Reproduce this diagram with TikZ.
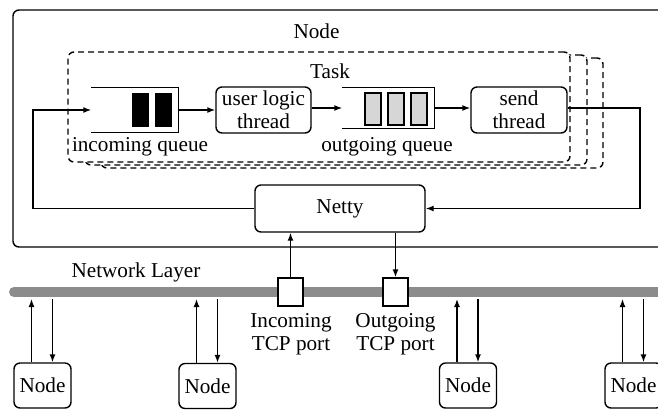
\documentclass[tikz,border=0pt]{standalone}
\usepackage{fontspec}
\setmainfont{Liberation Serif}
\usepackage{tikz}
\usetikzlibrary{arrows.meta}

\definecolor{barGray}{gray}{0.55}
\definecolor{slotGray}{gray}{0.84}

\begin{document}
\begin{tikzpicture}[x=0.5pt, y=-0.5pt, line width=0.7pt,
    font=\fontsize{10.6}{11.5}\selectfont,
    >={Latex[length=4pt,width=3pt]},
    rbox/.style={draw, rounded corners=3pt, align=center, inner sep=0pt},
    taskbox/.style={draw, dash pattern=on 3pt off 2pt, rounded corners=3pt, fill=white,
                    minimum width=251pt, minimum height=55pt},
    port/.style={draw, fill=white, minimum width=12.5pt, minimum height=14pt, inner sep=0pt},
    peer/.style={rbox, minimum width=28.5pt, minimum height=22.5pt}]
%    \draw [help lines, opacity=0.5, step=20] (0,0) grid (658,409);
    \useasboundingbox (0,0) rectangle (658,409);
    \clip (0,0) rectangle (658,409);

    %% the node that holds the tasks
    \node (host) [draw, rounded corners=3pt, minimum width=327.5pt, minimum height=118.5pt] at (340.5,128.5) {};
    \node (hostlbl) at (316.5,31) {Node};

    %% task boxes, drawn back to front
    \node (task3) [taskbox] at (352,113) {};
    \node (task2) [taskbox] at (336,110) {};
    \node (task1) [taskbox] at (319,107) {};
    \node (tasklbl) at (330,71.5) {Task};

    %% queues and threads
    \node (inq) [minimum width=43pt, minimum height=22pt, inner sep=0pt] at (135,110) {};
    \draw (inq.north west) -- (inq.north east) -- (inq.south east) -- (inq.south west);
    \foreach \x in {132,155}
        \fill (\x,93) rectangle ++(17,34);
    \node (inqlbl) at (140,147) {incoming queue};

    \node (logic) [rbox, minimum width=47.5pt, minimum height=23pt] at (263.5,110) {user logic\\thread};

    \node (outq) [minimum width=45.5pt, minimum height=20pt, inner sep=0pt] at (388.5,108) {};
    \draw (outq.north west) -- (outq.north east) -- (outq.south east) -- (outq.south west);
    \foreach \x in {365,388,411}
        \draw [fill=slotGray] (\x,93) rectangle ++(16,32);
    \node (outqlbl) at (387,147) {outgoing queue};

    \node (send) [rbox, minimum width=48pt, minimum height=23pt] at (519,110) {send\\thread};

    \draw [->] (inq.east) -- (inq.east -| logic.west);
    \draw [->] (logic.east |- outq.west) -- (outq.west);
    \draw [->] (outq.east) -- (outq.east -| send.west);

    %% netty and the loops to and from it
    \node (netty) [rbox, minimum width=85pt, minimum height=23.5pt] at (340,208.5) {Netty};
    \coordinate (lft) at (33,208.5);
    \coordinate (rgt) at (640,108);
    \draw [->] (netty.west) -- (lft) |- (inq.west);
    \draw [->] (send.east |- rgt) -- (rgt) |- (netty.east);

    %% network layer
    \draw [line width=5pt, barGray, line cap=round] (14,292) -- (690,292);
    \node (netlbl) at (136,272) {Network Layer};
    \coordinate (barlow) at (0,299);

    \node (inport) [port] at (290.5,292) {};
    \node (outport) [port] at (395.5,292) {};
    \node (inportlbl) [align=center] at (291,334) {Incoming\\TCP port};
    \node (outportlbl) [align=center] at (395.5,334) {Outgoing\\TCP port};
    \draw [->] (inport.north) -- (inport.north |- netty.south);
    \draw [->] (outport.north |- netty.south) -- (outport.north);

    %% the other nodes
    \node (n1) [peer] at (42.5,385.5) {Node};
    \node (n2) [peer] at (207.5,386) {Node};
    \node (n3) [peer] at (468,385.5) {Node};
    \node (n4) [peer] at (633.5,385.5) {Node};

    \foreach \n in {n1,n2,n3,n4} {
        \draw [->] ([xshift=-5.5pt]\n.north) -- ([xshift=-5.5pt]\n.north |- barlow);
        \draw [->] ([xshift=5pt]\n.north |- barlow) -- ([xshift=5pt]\n.north);
    }
\end{tikzpicture}
\end{document}
